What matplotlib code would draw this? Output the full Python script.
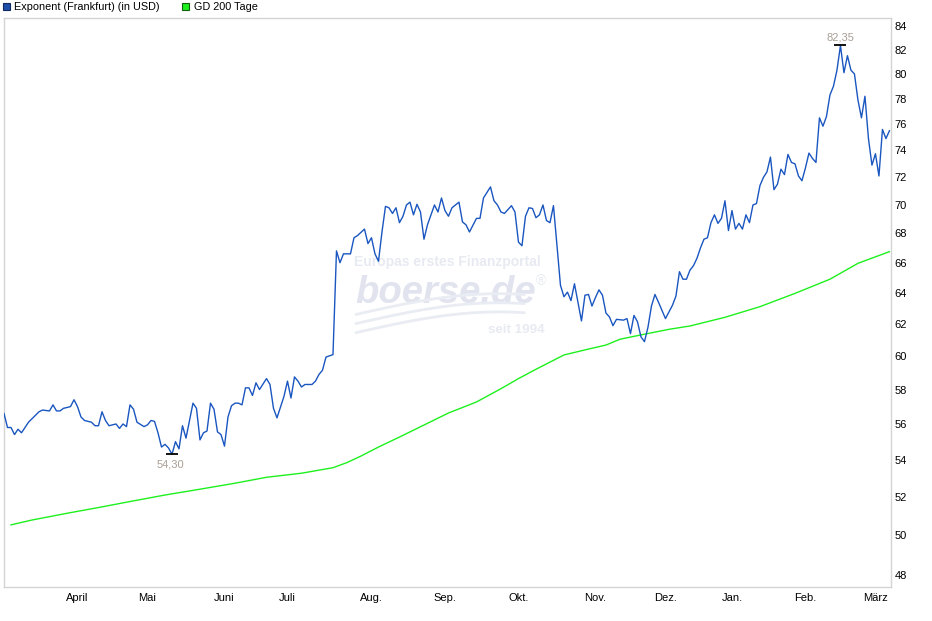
import matplotlib
matplotlib.use("Agg")
import matplotlib.pyplot as plt
from matplotlib.patches import Rectangle
import numpy as np

plt.rcParams['font.family'] = ['Liberation Sans', 'DejaVu Sans']

# ---- data (trading-day index, price in USD) ----
price_days = [0,1,2,3,4,5,6,7,8,9,10,11,13,14,15,16,17,19,20,21,22,23,25,26,27,28,29,30,32,33,34,35,36,37,38,40,
              41,42,43,44,45,46,47,48,49,50,51,52,53,54,55,56,57,58,59,60,61,62,63,64,65,66,67,68,69,70,71,72,73,75,
              76,77,78,80,81,82,83,84,85,86,88,89,90,91,92,94,95,96,97,99,100,101,103,104,105,106,107,108,109,110,
              111,112,113,114,115,116,117,118,119,120,121,122,123,124,125,126,127,128,130,131,132,133,135,136,137,
              139,140,141,142,143,145,146,147,148,149,150,151,152,153,154,155,156,157,159,160,161,162,163,164,165,
              166,167,168,169,170,171,172,173,174,175,177,178,179,180,181,182,183,184,185,186,187,189,191,192,193,
              194,195,196,197,198,199,200,201,202,203,204,205,206,207,208,209,210,211,212,213,214,215,216,217,218,
              219,220,221,222,223,224,225,226,227,228,229,230,231,232,233,234,235,236,237,238,239,240,241,242,243,
              244,245,246,247,248,249,250,251,252,253]
price_vals = [56.6,55.8,55.8,55.4,55.7,55.5,55.8,56.1,56.3,56.5,56.7,56.8,56.75,57.1,56.75,56.75,56.9,57.0,57.4,57.0,
              56.4,56.2,56.1,55.9,55.9,56.7,56.2,55.9,56.0,55.75,56.0,55.85,57.1,56.85,56.1,55.85,
              55.95,56.2,56.15,55.5,54.7,54.85,54.65,54.30,55.0,54.6,55.9,55.2,56.2,57.2,56.9,55.1,55.5,55.6,57.2,
              56.85,55.55,55.4,54.75,56.4,57.05,57.2,57.2,57.1,58.1,58.1,57.65,58.4,58.0,58.65,
              58.3,56.9,56.35,57.6,58.5,57.5,58.75,58.5,58.15,58.3,58.3,58.5,58.9,59.15,59.95,60.1,66.8,66.0,66.6,
              66.6,67.7,67.85,68.3,67.3,67.7,66.6,66.1,68.1,69.9,69.8,
              69.4,69.8,68.75,69.2,70.0,70.2,69.3,70.05,69.5,67.6,68.6,69.3,70.0,69.5,70.5,69.6,69.2,69.8,70.2,68.8,
              68.6,68.1,69.05,69.05,70.5,
              71.3,70.3,70.0,69.5,69.4,69.95,69.5,67.4,67.15,69.2,69.8,69.75,69.1,69.3,70.0,68.9,68.75,69.95,64.5,
              63.75,64.05,63.5,64.6,63.4,62.2,
              63.85,63.9,63.15,63.7,64.2,63.85,62.7,62.45,61.9,62.3,62.25,62.35,61.4,62.55,62.15,61.2,60.9,61.8,
              63.15,63.9,63.4,62.35,63.2,63.8,65.4,
              64.9,64.9,65.5,65.8,66.3,67.0,67.6,67.7,68.75,69.3,68.7,69.05,70.3,68.2,69.6,68.3,68.7,68.3,69.3,68.75,
              70.0,70.1,71.4,72.0,72.4,
              73.5,71.1,71.5,72.6,72.2,73.7,73.1,73.0,72.1,71.75,72.7,73.8,73.4,73.1,76.5,75.85,76.6,78.3,79.0,80.3,
              82.35,80.1,81.5,80.3,80.0,
              77.9,76.5,78.2,74.9,72.9,73.75,72.1,75.6,74.9,75.5]

gd_days = [2,8,18,27,37,46,56,66,75,85,94,98,102,107,113,120,127,135,142,147,152,160,166,172,176,182,190,196,
           206,216,226,236,244,253]
gd_vals = [50.53,50.78,51.13,51.43,51.78,52.09,52.40,52.72,53.04,53.26,53.56,53.84,54.20,54.70,55.26,55.94,
           56.63,57.27,58.05,58.65,59.21,60.08,60.39,60.69,61.05,61.32,61.67,61.88,62.43,63.11,63.97,64.90,65.96,66.75]

month_days = [21,41,63,81,105,126,147,169,189,208,229,249]
month_labels = ['April','Mai','Juni','Juli','Aug.','Sep.','Okt.','Nov.','Dez.','Jan.','Feb.','März']
y_ticks = [48,50,52,54,56,58,60,62,64,66,68,70,72,74,76,78,80,82,84]

min_day, min_val = 48, 54.30
max_day, max_val = 239, 82.35

W, H = 932, 621
fig = plt.figure(figsize=(W/100, H/100), dpi=100)
fig.patch.set_facecolor('white')
ax = fig.add_axes([4/W, (H-587)/H, 886.5/W, 569/H])
ax.set_yscale('log')
ax.set_xlim(0, 253.3)
ax.set_ylim(47.43, 84.69)

# watermark
wm = '#e8eaf2'
ax.text(0.4997, 0.5712, 'Europas erstes Finanzportal', transform=ax.transAxes, ha='center', va='center',
        fontsize=10, fontweight='bold', color=wm, zorder=0)
ax.text(0.498, 0.516, 'boerse.de', transform=ax.transAxes, ha='center', va='center',
        fontsize=27.5, fontweight='bold', style='italic', color='#e1e3ee', zorder=0)
ax.text(0.606, 0.538, '®', transform=ax.transAxes, ha='center', va='center',
        fontsize=10, color=wm, zorder=0)
ax.text(0.5776, 0.4517, 'seit 1994', transform=ax.transAxes, ha='center', va='center',
        fontsize=9.6, fontweight='bold', color=wm, zorder=0)
s = np.linspace(0, 1, 40)
for off in [0.0, 0.016, 0.032]:
    xs = 0.397 + 0.19 * s
    ys = 0.447 + off + 0.055 * np.sin(s * np.pi / 2) - 0.02 * s
    ax.plot(xs, ys, transform=ax.transAxes, color='#eaecf3', lw=2.0, zorder=0, solid_capstyle='round')

ax.plot(gd_days, gd_vals, color='#1ef01e', lw=1.0, zorder=2)
ax.plot(price_days, price_vals, color='#1a56c0', lw=1.0, zorder=3)

# extreme markers
ax.plot([min_day], [min_val], marker='_', ms=8, mew=1.3, color='black', zorder=4)
ax.plot([max_day], [max_val], marker='_', ms=8, mew=1.3, color='black', zorder=4)
lab_col = '#a99f95'
ax.annotate('54,30', (min_day, min_val), xytext=(-1, -7.5), textcoords='offset points',
            ha='center', va='center', fontsize=8, color=lab_col)
ax.annotate('82,35', (max_day, max_val), xytext=(0, 5.6), textcoords='offset points',
            ha='center', va='center', fontsize=8, color=lab_col)

ax.yaxis.tick_right()
ax.set_yticks(y_ticks)
ax.set_yticklabels([str(v) for v in y_ticks])
ax.yaxis.set_minor_locator(matplotlib.ticker.NullLocator())
ax.set_xticks(month_days)
ax.set_xticklabels(month_labels)
ax.tick_params(axis='both', length=0, labelsize=8, colors='black')
ax.tick_params(axis='y', pad=3)
ax.tick_params(axis='x', pad=4)
for sp in ax.spines.values():
    sp.set_color('#d4d4d4')
    sp.set_linewidth(1.0)

# legend
fig.add_artist(Rectangle((3/W, 1-10/H), 7/W, 7/H, transform=fig.transFigure,
                         facecolor='#1d4fa8', edgecolor='#102a60', lw=0.8))
fig.text(14/W, 1-6.5/H, 'Exponent (Frankfurt) (in USD)', fontsize=7.8, va='center', ha='left')
fig.add_artist(Rectangle((182/W, 1-10/H), 7/W, 7/H, transform=fig.transFigure,
                         facecolor='#1ef01e', edgecolor='#106010', lw=0.8))
fig.text(194/W, 1-6.5/H, 'GD 200 Tage', fontsize=7.8, va='center', ha='left')

fig.savefig('out.png', dpi=100)
